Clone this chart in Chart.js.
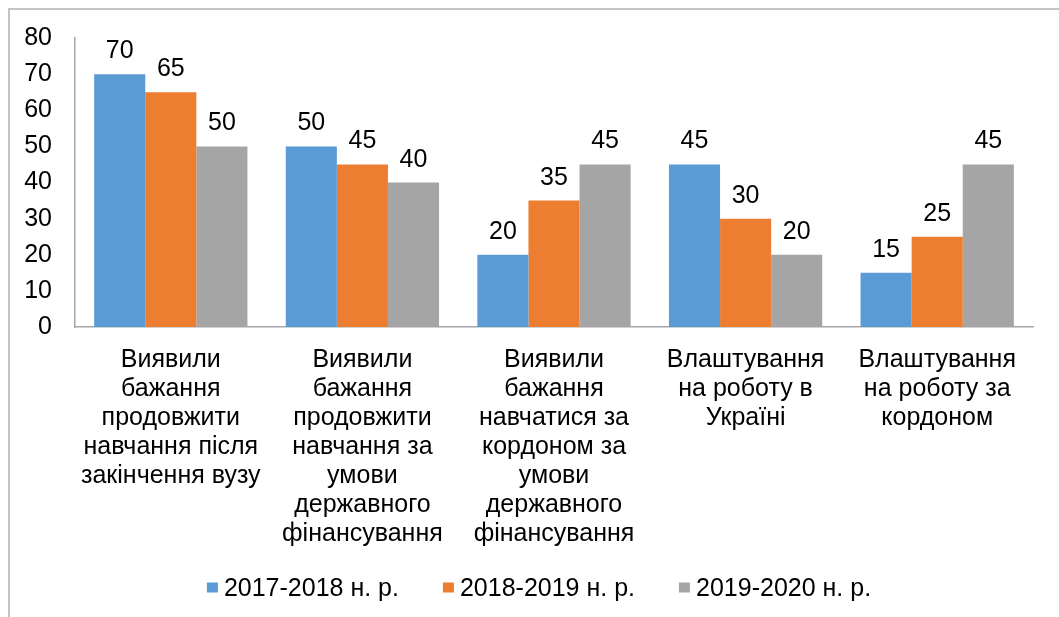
<!DOCTYPE html>
<html lang="uk">
<head>
<meta charset="utf-8">
<script src="https://cdn.jsdelivr.net/npm/chart.js@4.4.0/dist/chart.umd.min.js"></script>
<style>
    html, body { margin: 0; padding: 0; background: #fff; overflow: hidden; }
    #frame {
        position: absolute; left: 8px; top: 8px; width: 1100px; height: 700px;
        border-left: 2px solid #c4c4c4; border-top: 2px solid #c4c4c4;
    }
    #wrap { position: absolute; left: 0; top: 0; width: 1059px; height: 617px; }
    #legend {
        position: absolute; left: 539px; top: 587px; transform: translate(-50%, -50%);
        display: flex; align-items: center; gap: 44px; white-space: nowrap;
        font: 25px "Liberation Sans", Arial, sans-serif; color: #000;
    }
    #legend .item { display: flex; align-items: center; }
    #legend .box { width: 11px; height: 10px; margin-right: 6px; }
</style>
</head>
<body>
<div id="frame"></div>
<div id="wrap"><canvas id="chart"></canvas></div>
<div id="legend"></div>
<script>
// Категорії (по рядках, як у підписах осі)
const categories = [
    ['Виявили', 'бажання', 'продовжити', 'навчання після', 'закінчення вузу'],
    ['Виявили', 'бажання', 'продовжити', 'навчання за', 'умови', 'державного', 'фінансування'],
    ['Виявили', 'бажання', 'навчатися за', 'кордоном за', 'умови', 'державного', 'фінансування'],
    ['Влаштування', 'на роботу в', 'Україні'],
    ['Влаштування', 'на роботу за', 'кордоном']
];

const seriesNames = ['2017-2018 н. р.', '2018-2019 н. р.', '2019-2020 н. р.'];
const values2017 = [70, 50, 20, 45, 15];
const values2018 = [65, 45, 35, 30, 25];
const values2019 = [50, 40, 45, 20, 45];

const yMin = 0;
const yMax = 80;
const yStep = 10;

const FONT = '"Liberation Sans", Arial, sans-serif';

// Підписи значень над стовпчиками
const valueLabels = {
    id: 'valueLabels',
    afterDatasetsDraw(chart) {
        const ctx = chart.ctx;
        ctx.save();
        ctx.font = '25px ' + FONT;
        ctx.fillStyle = '#000';
        ctx.textAlign = 'center';
        ctx.textBaseline = 'alphabetic';
        chart.data.datasets.forEach((ds, i) => {
            chart.getDatasetMeta(i).data.forEach((bar, j) => {
                ctx.fillText(ds.data[j], bar.x, bar.y - 16);
            });
        });
        ctx.restore();
    }
};

const ctx = document.getElementById('chart').getContext('2d');

const chart = new Chart(ctx, {
    type: 'bar',
    data: {
        labels: categories,
        datasets: [
            { label: seriesNames[0], data: values2017, backgroundColor: '#5B9BD5' },
            { label: seriesNames[1], data: values2018, backgroundColor: '#ED7D31' },
            { label: seriesNames[2], data: values2019, backgroundColor: '#A5A5A5' }
        ]
    },
    options: {
        responsive: true,
        maintainAspectRatio: false,
        animation: false,
        categoryPercentage: 0.8,
        barPercentage: 1.0,
        layout: {
            padding: { top: 35, left: 20, right: 26, bottom: 0 }
        },
        scales: {
            x: {
                grid: { display: false, drawTicks: false },
                border: { display: true, color: '#a6a6a6', width: 1.5 },
                ticks: {
                    color: '#000',
                    font: { family: FONT, size: 25, lineHeight: 1.16 },
                    padding: 19,
                    maxRotation: 0,
                    autoSkip: false
                },
                afterFit(scale) { scale.height = 290; }
            },
            y: {
                min: yMin,
                max: yMax,
                grid: { display: false, drawTicks: false },
                border: { display: true, color: '#a6a6a6', width: 1.5 },
                ticks: {
                    stepSize: yStep,
                    color: '#000',
                    font: { family: FONT, size: 25 },
                    padding: 23
                },
                afterFit(scale) { scale.width = 55; }
            }
        },
        plugins: {
            legend: { display: false },
            tooltip: { enabled: false }
        }
    },
    plugins: [valueLabels]
});

// Легенда під графіком
const legendEl = document.getElementById('legend');
chart.data.datasets.forEach(ds => {
    const item = document.createElement('div');
    item.className = 'item';
    item.innerHTML = `<span class="box" style="background:${ds.backgroundColor}"></span><span>${ds.label}</span>`;
    legendEl.appendChild(item);
});
</script>
</body>
</html>
